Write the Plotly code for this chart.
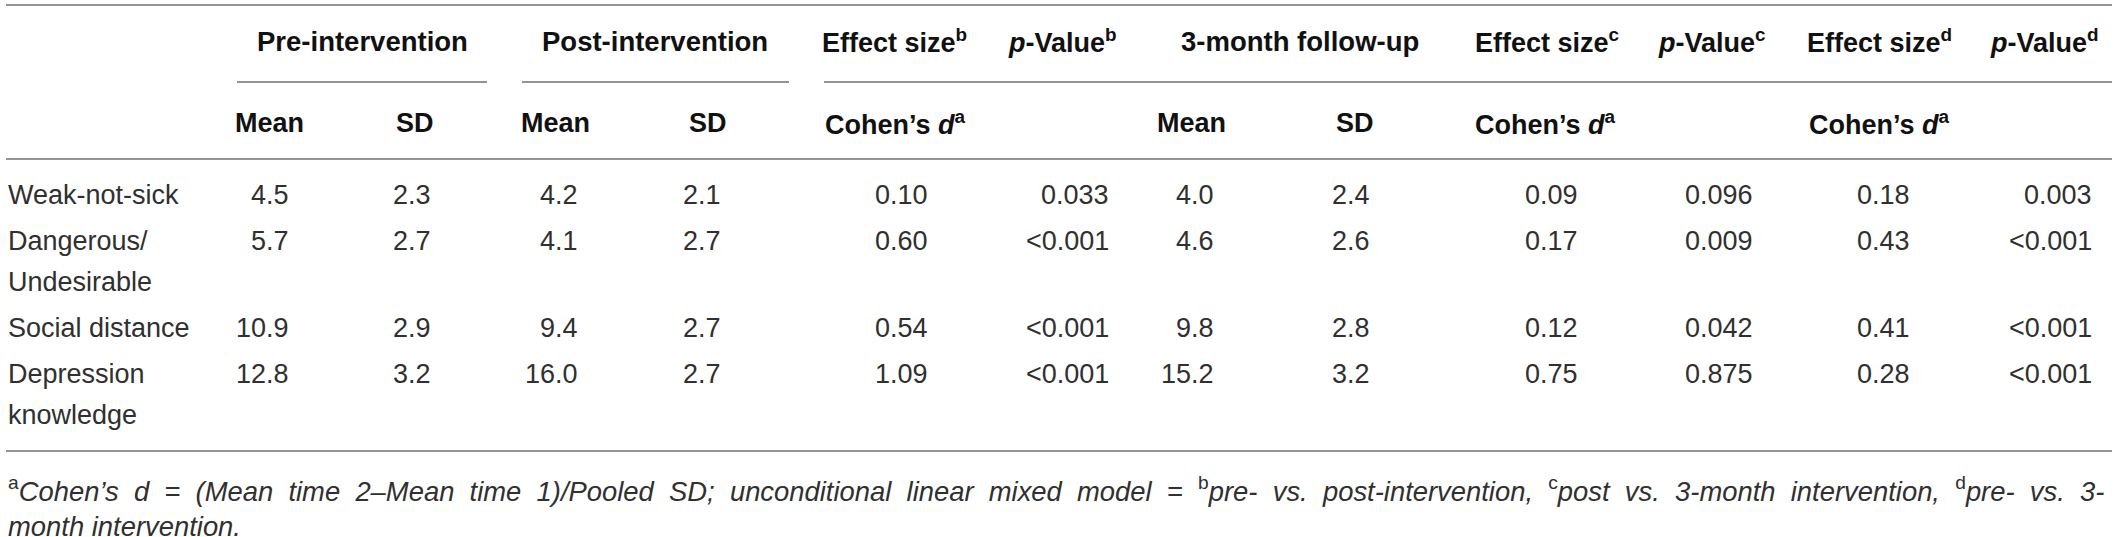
import plotly.graph_objects as go

# ---------------- data ----------------
categories = ["Weak-not-sick", "Dangerous/<br>Undesirable", "Social distance", "Depression<br>knowledge"]
pre_mean = [4.5, 5.7, 10.9, 12.8]
pre_sd = [2.3, 2.7, 2.9, 3.2]
post_mean = [4.2, 4.1, 9.4, 16.0]
post_sd = [2.1, 2.7, 2.7, 2.7]
d_pre_post = [0.10, 0.60, 0.54, 1.09]
p_pre_post = ["0.033", "<0.001", "<0.001", "<0.001"]
fu_mean = [4.0, 4.6, 9.8, 15.2]
fu_sd = [2.4, 2.6, 2.8, 3.2]
d_post_fu = [0.09, 0.17, 0.12, 0.75]
p_post_fu = ["0.096", "0.009", "0.042", "0.875"]
d_pre_fu = [0.18, 0.43, 0.41, 0.28]
p_pre_fu = ["0.003", "<0.001", "<0.001", "<0.001"]

group_headers = ["Pre-intervention", "Post-intervention", "3-month follow-up"]
top_headers = ["Effect size<sup>b</sup>", "<i>p</i>-Value<sup>b</sup>",
               "Effect size<sup>c</sup>", "<i>p</i>-Value<sup>c</sup>",
               "Effect size<sup>d</sup>", "<i>p</i>-Value<sup>d</sup>"]
sub_headers = ["Mean", "SD", "Mean", "SD", "Cohen’s <i>d</i><sup>a</sup>", "",
               "Mean", "SD", "Cohen’s <i>d</i><sup>a</sup>", "",
               "Cohen’s <i>d</i><sup>a</sup>", ""]
footnote = ["<sup>a</sup><i>Cohen’s d = (Mean time 2–Mean time 1)/Pooled SD; unconditional linear mixed model = </i>"
            "<sup>b</sup><i>pre- vs. post-intervention, </i><sup>c</sup><i>post vs. 3-month intervention, </i>"
            "<sup>d</sup><i>pre- vs. 3-</i>",
            "month intervention."]

# ---------------- layout constants ----------------
W, H = 2118, 537
FONT = "Liberation Sans, Arial, Helvetica, sans-serif"
FS = 27
FS_HEAD = 27.5
FS_FOOT = 27.4
BODY_COLOR = "#303030"
HEAD_COLOR = "#111111"
LINE_COLOR = "#707070"

col_left = [233, 394, 519, 687, 823, 1006, 1155, 1334, 1473, 1656, 1807, 1988]
col_right = [291, 433, 580, 723, 930, 1111, 1216, 1372, 1580, 1755, 1912, 2094]
group_center = [362, 655, 1300]
top_left = [820, 1006, 1473, 1656, 1805, 1988]
y_group, y_sub = 41, 123
y_first_row, row_gap, line_gap = 195, 46, 41
y_foot = [489, 526]
rule_y = [5, 159, 451]
under_y = 82
under_spans = [(237, 487), (522, 789), (824, 2112)]
x_lo, x_hi = 6, 2112
label_x = 6


def justify(s):
    # widen word gaps so the first footnote line fills the full width, like the reference
    return s.replace(" ", "\u00a0 ")


columns = [
    [f"{v:.1f}" for v in pre_mean],
    [f"{v:.1f}" for v in pre_sd],
    [f"{v:.1f}" for v in post_mean],
    [f"{v:.1f}" for v in post_sd],
    [f"{v:.2f}" for v in d_pre_post],
    list(p_pre_post),
    [f"{v:.1f}" for v in fu_mean],
    [f"{v:.1f}" for v in fu_sd],
    [f"{v:.2f}" for v in d_post_fu],
    list(p_post_fu),
    [f"{v:.2f}" for v in d_pre_fu],
    list(p_pre_fu),
]

# row positions from the row labels
row_y = []
y = y_first_row
for lab in categories:
    row_y.append(y)
    y += row_gap + (len(lab.split("<br>")) - 1) * line_gap

fig = go.Figure()
ann = []


def add_text(x, y, text, anchor="left", bold=False, italic=False, size=FS, color=BODY_COLOR):
    ann.append(dict(x=x, y=y, xref="x", yref="y", text=text,
                    showarrow=False, xanchor=anchor, yanchor="middle",
                    font=dict(family=FONT, size=size, color=color,
                              weight=("bold" if bold else "normal"),
                              style=("italic" if italic else "normal")),
                    align=anchor))


# headers
for txt, cx in zip(group_headers, group_center):
    add_text(cx, y_group, txt, anchor="center", bold=True, size=FS_HEAD, color=HEAD_COLOR)
for txt, lx in zip(top_headers, top_left):
    add_text(lx, y_group, txt, anchor="left", bold=True, size=FS, color=HEAD_COLOR)
for txt, lx in zip(sub_headers, col_left):
    if txt:
        add_text(lx, y_sub, txt, anchor="left", bold=True, size=FS, color=HEAD_COLOR)

# body
for lab, ry in zip(categories, row_y):
    for k, part in enumerate(lab.split("<br>")):
        add_text(label_x, ry + k * line_gap, part, anchor="left")
for vals, rx in zip(columns, col_right):
    for v, ry in zip(vals, row_y):
        add_text(rx, ry, v, anchor="right")

# footnotes
add_text(label_x, y_foot[0], justify(footnote[0]), anchor="left", size=FS_FOOT)
add_text(label_x, y_foot[1], footnote[1], anchor="left", italic=True, size=FS_FOOT)

shapes = []
for ry in rule_y:
    shapes.append(dict(type="line", xref="x", yref="y", x0=x_lo, x1=x_hi, y0=ry, y1=ry,
                       line=dict(color=LINE_COLOR, width=1.6)))
for a, b in under_spans:
    shapes.append(dict(type="line", xref="x", yref="y", x0=a, x1=b, y0=under_y, y1=under_y,
                       line=dict(color=LINE_COLOR, width=1.6)))

# invisible anchor trace so the axes exist
fig.add_trace(go.Scatter(x=[0, W], y=[0, H], mode="markers", marker=dict(opacity=0),
                         hoverinfo="skip", showlegend=False))

fig.update_layout(
    width=W, height=H, margin=dict(l=0, r=0, t=0, b=0),
    paper_bgcolor="white", plot_bgcolor="white",
    xaxis=dict(range=[0, W], visible=False, fixedrange=True),
    yaxis=dict(range=[H, 0], visible=False, fixedrange=True),
    annotations=ann, shapes=shapes, showlegend=False,
)

fig.write_html("out.html", config={"displayModeBar": False},
               post_script="document.body.style.margin='0';document.body.style.overflow='hidden';")
